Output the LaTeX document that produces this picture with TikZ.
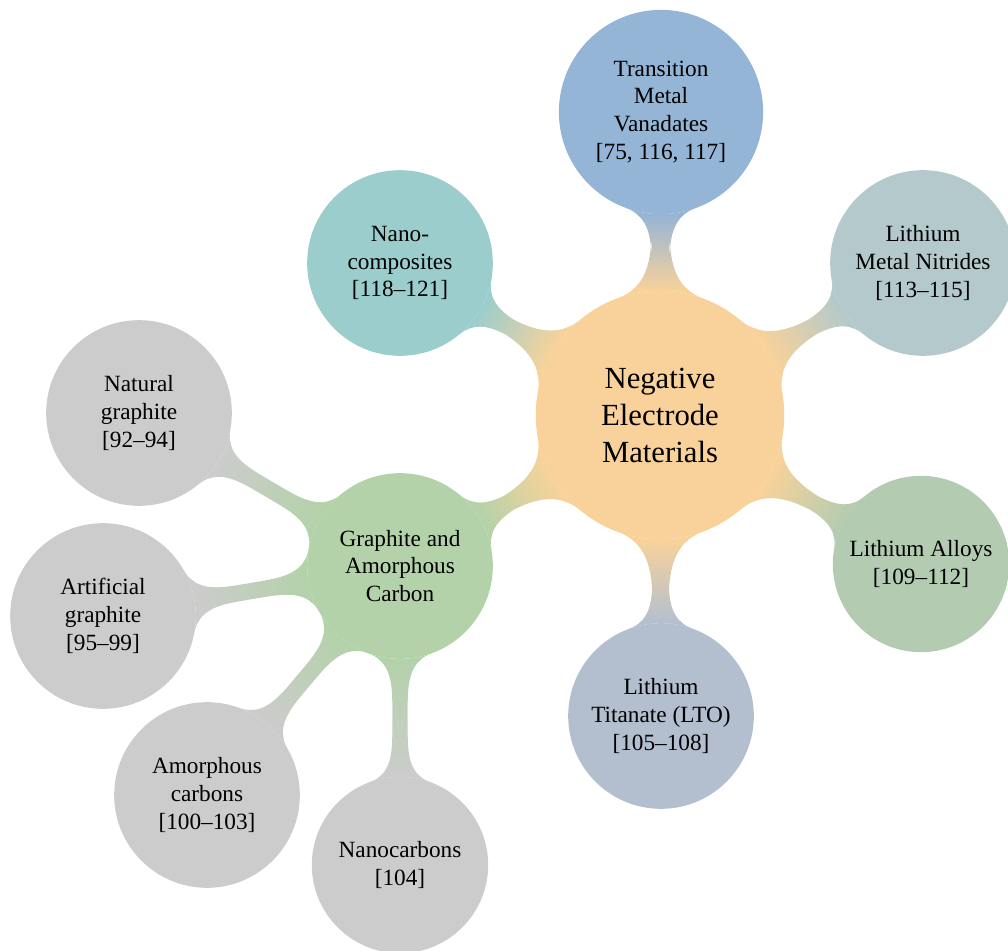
\documentclass[tikz,border=0pt]{standalone}
\usepackage{fontspec}
\setmainfont{Liberation Serif}
\usetikzlibrary{mindmap}

\definecolor{mitte}{RGB}{248,210,154}
\definecolor{vanadat}{RGB}{149,181,214}
\definecolor{nitrid}{RGB}{179,201,203}
\definecolor{legierung}{RGB}{179,204,177}
\definecolor{titanat}{RGB}{179,191,207}
\definecolor{kohlenstoff}{RGB}{179,210,169}
\definecolor{komposit}{RGB}{155,205,205}
\definecolor{blatt}{RGB}{204,204,204}

\begin{document}
\begin{tikzpicture}[x=0.0151cm, y=-0.0151cm,
  kreis/.style={circle, inner sep=0pt, align=center, text=black, fill=#1, draw=#1,
    line width=0.8pt, minimum size=79pt, font=\fontsize{10}{12}\selectfont},
  zentrum/.style={kreis=mitte, minimum size=106pt,
    font=\fontsize{13.2}{15.9}\selectfont}]

\useasboundingbox (0,0) rectangle (1008,951);

% Knoten
\node[zentrum] (NEM) at (660,415) {Negative\\Electrode\\Materials};
\node[kreis=vanadat, minimum size=87pt] (TMV) at (661,112) {Transition\\Metal\\Vanadates\\{[75, 116, 117]}};
\node[kreis=nitrid] (LMN) at (923,263) {Lithium\\Metal Nitrides\\{[113--115]}};
\node[kreis=legierung, minimum size=75pt] (LA) at (921,564) {Lithium Alloys\\{[109--112]}};
\node[kreis=titanat] (LTO) at (661,716) {Lithium\\Titanate (LTO)\\{[105--108]}};
\node[kreis=kohlenstoff] (GAC) at (400,566) {Graphite and\\Amorphous\\Carbon};
\node[kreis=komposit] (NC) at (400,263) {Nano-\\composites\\{[118--121]}};

\node[kreis=blatt] (NG) at (139,413) {Natural\\graphite\\{[92--94]}};
\node[kreis=blatt] (AG) at (103,616) {Artificial\\graphite\\{[95--99]}};
\node[kreis=blatt] (AC) at (207,795) {Amorphous\\carbons\\{[100--103]}};
\node[kreis=blatt, minimum size=75pt] (NCB) at (400,865) {Nanocarbons\\{[104]}};

% Verbindungen
\path (NEM) to[circle connection bar switch color=from (mitte) to (vanadat)] (TMV);
\path (NEM) to[circle connection bar switch color=from (mitte) to (nitrid)] (LMN);
\path (NEM) to[circle connection bar switch color=from (mitte) to (legierung)] (LA);
\path (NEM) to[circle connection bar switch color=from (mitte) to (titanat)] (LTO);
\path (NEM) to[circle connection bar switch color=from (mitte) to (kohlenstoff)] (GAC);
\path (NEM) to[circle connection bar switch color=from (mitte) to (komposit)] (NC);
\path (GAC) to[circle connection bar switch color=from (kohlenstoff) to (blatt)] (NG);
\path (GAC) to[circle connection bar switch color=from (kohlenstoff) to (blatt)] (AG);
\path (GAC) to[circle connection bar switch color=from (kohlenstoff) to (blatt)] (AC);
\path (GAC) to[circle connection bar switch color=from (kohlenstoff) to (blatt)] (NCB);

\end{tikzpicture}
\end{document}
